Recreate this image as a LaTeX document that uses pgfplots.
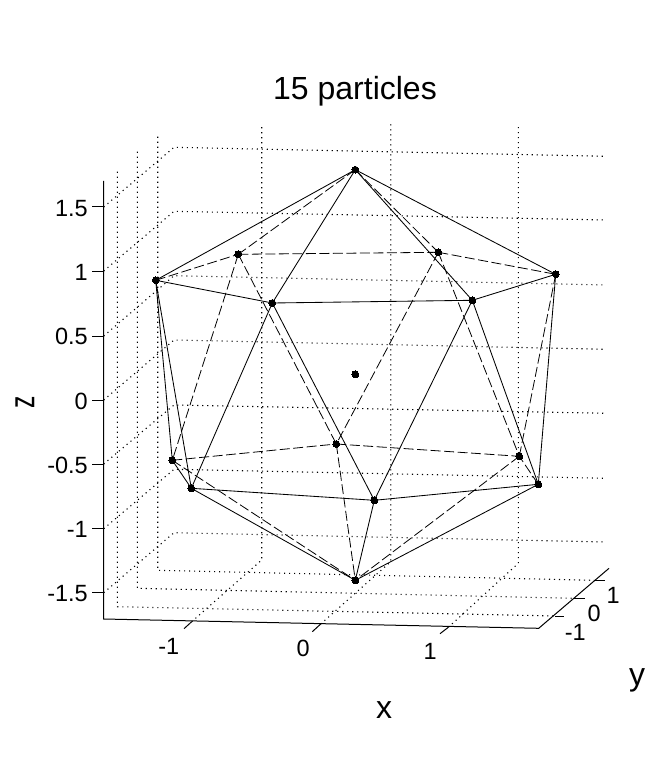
\documentclass[border=0pt]{standalone}
\usepackage{pgfplots}
\pgfplotsset{compat=1.18}
\usepackage{fontspec}
\setmainfont{Liberation Sans}
\pgfplotsset{
  solidedge/.style={black,line width=0.85bp,solid,mark=none},
  dashedge/.style={black,line width=0.8bp,dash pattern=on 10bp off 3.5bp,mark=none},
  griddot/.style={black,line width=1.1bp,dash pattern=on 1.1bp off 3.9bp,mark=none},
  axisline/.style={black,line width=1bp,solid,mark=none},
}
\newcommand{\ticklab}[1]{\fontsize{23.5bp}{28bp}\selectfont #1}
\begin{document}
\begin{tikzpicture}
\useasboundingbox (0,0) rectangle (672bp,777bp);
\begin{axis}[
  scale only axis, width=672bp, height=777bp,
  xmin=0, xmax=672, ymin=0, ymax=777, y dir=reverse,
  hide axis, clip=false, anchor=south west, at={(0,0)},
]
% --- dotted grid: left wall + back wall at each z tick
\addplot[griddot] coordinates {(103.7,207) (174,147.3) (606,156.3)};
\addplot[griddot] coordinates {(103.7,271) (174,211.3) (606,220)};
\addplot[griddot] coordinates {(103.7,336) (174,275.7) (606,285)};
\addplot[griddot] coordinates {(103.7,400) (174,340) (606,349.3)};
\addplot[griddot] coordinates {(103.7,464) (174,405) (606,413.3)};
\addplot[griddot] coordinates {(103.7,528.7) (174,469.3) (606,478.3)};
\addplot[griddot] coordinates {(103.7,592.7) (174,532.7) (606,542)};
% --- dotted grid: y ticks, left wall + floor
\addplot[griddot] coordinates {(117.3,171.7) (117.3,606.7) (555,616)};
\addplot[griddot] coordinates {(137.3,151.7) (137.3,588.3) (573.3,598.3)};
\addplot[griddot] coordinates {(157.7,136.7) (157.7,570.3) (594.3,580.3)};
% --- dotted grid: x ticks, floor + back wall
\addplot[griddot] coordinates {(191.7,621.7) (261.7,560) (261.7,124.3)};
\addplot[griddot] coordinates {(320.7,624) (390.7,561.7) (390.7,124.3)};
\addplot[griddot] coordinates {(448.3,627.3) (518.3,563.3) (518.3,124.3)};
% --- axis box lines
\addplot[axisline] coordinates {(103.7,181) (103.7,619) (538.7,628.3) (609,568.3)};
% --- z ticks
\addplot[axisline] coordinates {(92.3,207) (103.7,207)};
\addplot[axisline] coordinates {(92.3,271) (103.7,271)};
\addplot[axisline] coordinates {(92.3,336) (103.7,336)};
\addplot[axisline] coordinates {(92.3,400) (103.7,400)};
\addplot[axisline] coordinates {(92.3,464) (103.7,464)};
\addplot[axisline] coordinates {(92.3,528.7) (103.7,528.7)};
\addplot[axisline] coordinates {(92.3,592.7) (103.7,592.7)};
% --- x ticks
\addplot[axisline] coordinates {(191.7,621.7) (184,628.7)};
\addplot[axisline] coordinates {(320.7,624) (312.3,631.7)};
\addplot[axisline] coordinates {(448.3,627.3) (440,633.7)};
% --- y ticks
\addplot[axisline] coordinates {(555,616) (564.3,616)};
\addplot[axisline] coordinates {(573.3,598.3) (584.7,598.3)};
\addplot[axisline] coordinates {(594.3,580.3) (605,580.3)};
% --- hidden edges (dashed)
\addplot[dashedge] coordinates {(355.3,169.7) (238.3,254.3)};
\addplot[dashedge] coordinates {(355.3,169.7) (438.3,252.3)};
\addplot[dashedge] coordinates {(155.7,280.3) (238.3,254.3)};
\addplot[dashedge] coordinates {(238.3,254.3) (438.3,252.3)};
\addplot[dashedge] coordinates {(438.3,252.3) (555.7,274.3)};
\addplot[dashedge] coordinates {(238.3,254.3) (336.3,444)};
\addplot[dashedge] coordinates {(238.3,254.3) (172.3,460.3)};
\addplot[dashedge] coordinates {(438.3,252.3) (519.3,456.3)};
\addplot[dashedge] coordinates {(438.3,252.3) (336.3,444)};
\addplot[dashedge] coordinates {(555.7,274.3) (519.3,456.3)};
\addplot[dashedge] coordinates {(538.3,484.3) (519.3,456.3)};
\addplot[dashedge] coordinates {(172.3,460.3) (336.3,444)};
\addplot[dashedge] coordinates {(336.3,444) (519.3,456.3)};
\addplot[dashedge] coordinates {(336.3,444) (355.3,580.3)};
\addplot[dashedge] coordinates {(172.3,460.3) (355.3,580.3)};
\addplot[dashedge] coordinates {(519.3,456.3) (355.3,580.3)};
% --- visible edges (solid)
\addplot[solidedge] coordinates {(355.3,169.7) (155.7,280.3)};
\addplot[solidedge] coordinates {(355.3,169.7) (272.3,303)};
\addplot[solidedge] coordinates {(355.3,169.7) (472.3,300.3)};
\addplot[solidedge] coordinates {(355.3,169.7) (555.7,274.3)};
\addplot[solidedge] coordinates {(155.7,280.3) (272.3,303)};
\addplot[solidedge] coordinates {(272.3,303) (472.3,300.3)};
\addplot[solidedge] coordinates {(472.3,300.3) (555.7,274.3)};
\addplot[solidedge] coordinates {(155.7,280.3) (172.3,460.3)};
\addplot[solidedge] coordinates {(155.7,280.3) (191.3,488.3)};
\addplot[solidedge] coordinates {(272.3,303) (191.3,488.3)};
\addplot[solidedge] coordinates {(272.3,303) (374.3,500.3)};
\addplot[solidedge] coordinates {(472.3,300.3) (374.3,500.3)};
\addplot[solidedge] coordinates {(472.3,300.3) (538.3,484.3)};
\addplot[solidedge] coordinates {(555.7,274.3) (538.3,484.3)};
\addplot[solidedge] coordinates {(172.3,460.3) (191.3,488.3)};
\addplot[solidedge] coordinates {(191.3,488.3) (374.3,500.3)};
\addplot[solidedge] coordinates {(374.3,500.3) (538.3,484.3)};
\addplot[solidedge] coordinates {(191.3,488.3) (355.3,580.3)};
\addplot[solidedge] coordinates {(374.3,500.3) (355.3,580.3)};
\addplot[solidedge] coordinates {(538.3,484.3) (355.3,580.3)};
% --- 15 particles
\addplot[only marks, mark=*, mark size=3.4bp, mark options={fill=black,draw=black,line width=0pt}] coordinates {
  (355.3,169.7) (155.7,280.3) (238.3,254.3) (272.3,303) (355.3,374.3)
  (438.3,252.3) (555.7,274.3) (472.3,300.3) (172.3,460.3) (191.3,488.3)
  (336.3,444) (374.3,500.3) (355.3,580.3) (519.3,456.3) (538.3,484.3)
};
% --- text
\node[anchor=base,inner sep=0pt] at (axis cs:355,100) {\fontsize{32bp}{38bp}\selectfont 15 particles};
\node[anchor=base east,inner sep=0pt] at (axis cs:88,216) {\ticklab{1.5}};
\node[anchor=base east,inner sep=0pt] at (axis cs:88,280) {\ticklab{1}};
\node[anchor=base east,inner sep=0pt] at (axis cs:88,344.5) {\ticklab{0.5}};
\node[anchor=base east,inner sep=0pt] at (axis cs:88,409) {\ticklab{0}};
\node[anchor=base east,inner sep=0pt] at (axis cs:88,473) {\ticklab{-0.5}};
\node[anchor=base east,inner sep=0pt] at (axis cs:88,537.5) {\ticklab{-1}};
\node[anchor=base east,inner sep=0pt] at (axis cs:88,601.5) {\ticklab{-1.5}};
\node[anchor=base east,inner sep=0pt] at (axis cs:179.5,654.3) {\ticklab{-1}};
\node[anchor=base east,inner sep=0pt] at (axis cs:310,656.7) {\ticklab{0}};
\node[anchor=base east,inner sep=0pt] at (axis cs:437,659.3) {\ticklab{1}};
\node[anchor=base east,inner sep=0pt] at (axis cs:586,640) {\ticklab{-1}};
\node[anchor=base east,inner sep=0pt] at (axis cs:601,621.7) {\ticklab{0}};
\node[anchor=base east,inner sep=0pt] at (axis cs:620,603.3) {\ticklab{1}};
\node[anchor=center,inner sep=0pt] at (axis cs:384,710) {\fontsize{32bp}{38bp}\selectfont x};
\node[anchor=center,inner sep=0pt] at (axis cs:637,680) {\fontsize{32bp}{38bp}\selectfont y};
\node[anchor=center,inner sep=0pt,rotate=90] at (axis cs:25,402) {\scalebox{0.77}[1.12]{\fontsize{32bp}{38bp}\selectfont z}};
\end{axis}
\end{tikzpicture}
\end{document}
